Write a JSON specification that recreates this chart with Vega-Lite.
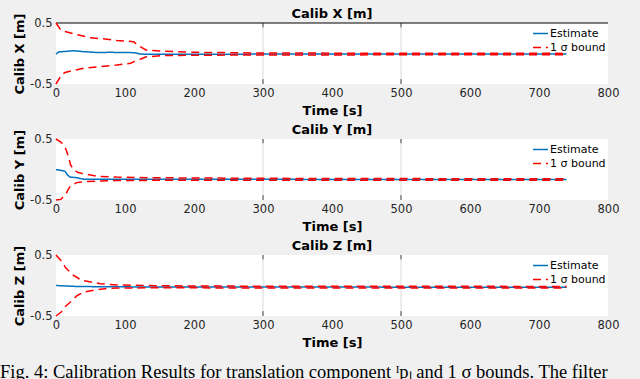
{
  "$schema": "https://vega.github.io/schema/vega-lite/v6.json",
  "background": "#f0f0f0",
  "padding": {"left": 0, "top": 7, "right": 0, "bottom": 0},
  "config": {
    "font": "DejaVu Sans",
    "view": {"stroke": null, "fill": "white"},
    "axis": {"domain": false, "ticks": false, "grid": false, "labelFont": "DejaVu Sans", "labelFontSize": 11.5, "labelColor": "#262626", "titleFont": "DejaVu Sans", "titleFontSize": 13, "titleFontWeight": "bold", "titleColor": "black"},
    "axisX": {"labelPadding": 3, "titlePadding": 6, "labelFlush": false},
    "axisY": {"labelPadding": 4, "titlePadding": 3},
    "title": {"font": "DejaVu Sans", "fontSize": 13, "fontWeight": "bold", "color": "black", "offset": -8, "anchor": "middle"},
    "legend": {"orient": "top-right", "offset": 2, "padding": 0, "labelFont": "DejaVu Sans", "labelFontSize": 11, "labelColor": "black", "symbolType": "stroke", "symbolSize": 225, "symbolStrokeWidth": 1.5, "rowPadding": -3, "labelOffset": 1, "title": null}
  },
  "datasets": {
    "dx": [
      {"t":0,"v":-0.01,"s":"Estimate","k":"e"},{"t":4,"v":0.027,"s":"Estimate","k":"e"},{"t":15,"v":0.035,"s":"Estimate","k":"e"},{"t":25,"v":0.045,"s":"Estimate","k":"e"},{"t":40,"v":0.03,"s":"Estimate","k":"e"},{"t":60,"v":0.015,"s":"Estimate","k":"e"},{"t":80,"v":0.02,"s":"Estimate","k":"e"},{"t":90,"v":0.015,"s":"Estimate","k":"e"},{"t":100,"v":0.018,"s":"Estimate","k":"e"},{"t":115,"v":0.012,"s":"Estimate","k":"e"},{"t":122,"v":-0.01,"s":"Estimate","k":"e"},{"t":150,"v":-0.012,"s":"Estimate","k":"e"},{"t":300,"v":-0.01,"s":"Estimate","k":"e"},{"t":500,"v":-0.01,"s":"Estimate","k":"e"},{"t":740,"v":-0.01,"s":"Estimate","k":"e"},
      {"t":0,"v":0.5,"s":"1 σ bound","k":"u"},{"t":8,"v":0.37,"s":"1 σ bound","k":"u"},{"t":13,"v":0.36,"s":"1 σ bound","k":"u"},{"t":30,"v":0.31,"s":"1 σ bound","k":"u"},{"t":49,"v":0.26,"s":"1 σ bound","k":"u"},{"t":68,"v":0.24,"s":"1 σ bound","k":"u"},{"t":88,"v":0.215,"s":"1 σ bound","k":"u"},{"t":107,"v":0.2,"s":"1 σ bound","k":"u"},{"t":113,"v":0.19,"s":"1 σ bound","k":"u"},{"t":119,"v":0.13,"s":"1 σ bound","k":"u"},{"t":131,"v":0.054,"s":"1 σ bound","k":"u"},{"t":155,"v":0.038,"s":"1 σ bound","k":"u"},{"t":200,"v":0.02,"s":"1 σ bound","k":"u"},{"t":300,"v":0.008,"s":"1 σ bound","k":"u"},{"t":500,"v":0.004,"s":"1 σ bound","k":"u"},{"t":740,"v":0.002,"s":"1 σ bound","k":"u"},
      {"t":0,"v":-0.5,"s":"1 σ bound","k":"l"},{"t":8,"v":-0.35,"s":"1 σ bound","k":"l"},{"t":13,"v":-0.31,"s":"1 σ bound","k":"l"},{"t":40,"v":-0.24,"s":"1 σ bound","k":"l"},{"t":64,"v":-0.215,"s":"1 σ bound","k":"l"},{"t":88,"v":-0.19,"s":"1 σ bound","k":"l"},{"t":108,"v":-0.16,"s":"1 σ bound","k":"l"},{"t":114,"v":-0.13,"s":"1 σ bound","k":"l"},{"t":131,"v":-0.054,"s":"1 σ bound","k":"l"},{"t":155,"v":-0.035,"s":"1 σ bound","k":"l"},{"t":200,"v":-0.028,"s":"1 σ bound","k":"l"},{"t":300,"v":-0.024,"s":"1 σ bound","k":"l"},{"t":500,"v":-0.022,"s":"1 σ bound","k":"l"},{"t":740,"v":-0.022,"s":"1 σ bound","k":"l"}
    ],
    "dy": [
      {"t":0,"v":0,"s":"Estimate","k":"e"},{"t":13,"v":-0.027,"s":"Estimate","k":"e"},{"t":16,"v":-0.08,"s":"Estimate","k":"e"},{"t":20,"v":-0.124,"s":"Estimate","k":"e"},{"t":30,"v":-0.134,"s":"Estimate","k":"e"},{"t":40,"v":-0.16,"s":"Estimate","k":"e"},{"t":100,"v":-0.16,"s":"Estimate","k":"e"},{"t":200,"v":-0.158,"s":"Estimate","k":"e"},{"t":400,"v":-0.163,"s":"Estimate","k":"e"},{"t":740,"v":-0.165,"s":"Estimate","k":"e"},
      {"t":0,"v":0.5,"s":"1 σ bound","k":"u"},{"t":7,"v":0.45,"s":"1 σ bound","k":"u"},{"t":13,"v":0.376,"s":"1 σ bound","k":"u"},{"t":18,"v":0.215,"s":"1 σ bound","k":"u"},{"t":21,"v":0.08,"s":"1 σ bound","k":"u"},{"t":25,"v":0,"s":"1 σ bound","k":"u"},{"t":32,"v":-0.05,"s":"1 σ bound","k":"u"},{"t":40,"v":-0.07,"s":"1 σ bound","k":"u"},{"t":59,"v":-0.11,"s":"1 σ bound","k":"u"},{"t":88,"v":-0.124,"s":"1 σ bound","k":"u"},{"t":136,"v":-0.134,"s":"1 σ bound","k":"u"},{"t":200,"v":-0.14,"s":"1 σ bound","k":"u"},{"t":400,"v":-0.148,"s":"1 σ bound","k":"u"},{"t":740,"v":-0.152,"s":"1 σ bound","k":"u"},
      {"t":0,"v":-0.5,"s":"1 σ bound","k":"l"},{"t":7,"v":-0.49,"s":"1 σ bound","k":"l"},{"t":14.5,"v":-0.4,"s":"1 σ bound","k":"l"},{"t":18,"v":-0.32,"s":"1 σ bound","k":"l"},{"t":21,"v":-0.27,"s":"1 σ bound","k":"l"},{"t":30,"v":-0.215,"s":"1 σ bound","k":"l"},{"t":40,"v":-0.2,"s":"1 σ bound","k":"l"},{"t":59,"v":-0.19,"s":"1 σ bound","k":"l"},{"t":88,"v":-0.18,"s":"1 σ bound","k":"l"},{"t":200,"v":-0.176,"s":"1 σ bound","k":"l"},{"t":400,"v":-0.177,"s":"1 σ bound","k":"l"},{"t":740,"v":-0.178,"s":"1 σ bound","k":"l"}
    ],
    "dz": [
      {"t":0,"v":0,"s":"Estimate","k":"e"},{"t":30,"v":-0.016,"s":"Estimate","k":"e"},{"t":64,"v":-0.02,"s":"Estimate","k":"e"},{"t":150,"v":-0.025,"s":"Estimate","k":"e"},{"t":740,"v":-0.028,"s":"Estimate","k":"e"},
      {"t":0,"v":0.5,"s":"1 σ bound","k":"u"},{"t":8,"v":0.4,"s":"1 σ bound","k":"u"},{"t":14,"v":0.29,"s":"1 σ bound","k":"u"},{"t":25,"v":0.17,"s":"1 σ bound","k":"u"},{"t":37,"v":0.086,"s":"1 σ bound","k":"u"},{"t":49,"v":0.06,"s":"1 σ bound","k":"u"},{"t":64,"v":0.03,"s":"1 σ bound","k":"u"},{"t":88,"v":0.01,"s":"1 σ bound","k":"u"},{"t":150,"v":-0.005,"s":"1 σ bound","k":"u"},{"t":300,"v":-0.012,"s":"1 σ bound","k":"u"},{"t":740,"v":-0.015,"s":"1 σ bound","k":"u"},
      {"t":0,"v":-0.5,"s":"1 σ bound","k":"l"},{"t":8,"v":-0.43,"s":"1 σ bound","k":"l"},{"t":14,"v":-0.34,"s":"1 σ bound","k":"l"},{"t":23,"v":-0.25,"s":"1 σ bound","k":"l"},{"t":30,"v":-0.17,"s":"1 σ bound","k":"l"},{"t":40,"v":-0.11,"s":"1 σ bound","k":"l"},{"t":59,"v":-0.07,"s":"1 σ bound","k":"l"},{"t":73,"v":-0.05,"s":"1 σ bound","k":"l"},{"t":93,"v":-0.04,"s":"1 σ bound","k":"l"},{"t":150,"v":-0.038,"s":"1 σ bound","k":"l"},{"t":300,"v":-0.04,"s":"1 σ bound","k":"l"},{"t":740,"v":-0.041,"s":"1 σ bound","k":"l"}
    ],
    "grid": [{"t":300},{"t":500}],
    "gticks": [{"t":300,"a":0.5,"b":0.43},{"t":300,"a":-0.5,"b":-0.42},{"t":500,"a":0.5,"b":0.43},{"t":500,"a":-0.5,"b":-0.42}]
  },
  "spacing": 2,
  "vconcat": [
    {
      "spacing": 55,
      "bounds": "flush",
      "resolve": {"scale": {"color": "independent", "strokeDash": "independent"}, "legend": {"color": "independent", "strokeDash": "independent"}},
      "vconcat": [
        {
          "width": 552, "height": 61,
          "title": "Calib X [m]",
          "layer": [
            {"data": {"name": "grid"}, "mark": {"type": "rule", "color": "#d9d9d9", "strokeWidth": 1}, "encoding": {"x": {"field": "t", "type": "quantitative", "scale": {"domain": [0, 800]}, "title": "Time [s]", "axis": {"values": [0,100,200,300,400,500,600,700,800]}}}},
            {"data": {"name": "gticks"}, "mark": {"type": "rule", "color": "#4d4d4d", "strokeWidth": 1}, "encoding": {"x": {"field": "t", "type": "quantitative", "title": "Time [s]"}, "y": {"field": "a", "type": "quantitative", "scale": {"domain": [-0.5, 0.5]}, "title": "Calib X [m]", "axis": {"values": [-0.5, 0, 0.5], "labelExpr": "replace(datum.label, '\u2212', '-')"}}, "y2": {"field": "b"}}},
            {"data": {"values": [{"v": 0.5}]}, "mark": {"type": "rule", "color": "black", "strokeWidth": 1}, "encoding": {"y": {"field": "v", "type": "quantitative", "title": "Calib X [m]"}}},
            {"data": {"name": "dx"}, "mark": {"type": "line", "strokeWidth": 1.5},
             "encoding": {
               "x": {"field": "t", "type": "quantitative", "title": "Time [s]"},
               "y": {"field": "v", "type": "quantitative", "title": "Calib X [m]"},
               "color": {"field": "s", "type": "nominal", "scale": {"domain": ["Estimate", "1 σ bound"], "range": ["#0072BD", "#FF0000"]}},
               "strokeDash": {"field": "s", "type": "nominal", "scale": {"domain": ["Estimate", "1 σ bound"], "range": [[1, 0], [8, 5]]}},
               "detail": {"field": "k"}
             }}
          ]
        },
        {
          "width": 552, "height": 61,
          "title": "Calib Y [m]",
          "layer": [
            {"data": {"name": "grid"}, "mark": {"type": "rule", "color": "#d9d9d9", "strokeWidth": 1}, "encoding": {"x": {"field": "t", "type": "quantitative", "scale": {"domain": [0, 800]}, "title": "Time [s]", "axis": {"values": [0,100,200,300,400,500,600,700,800]}}}},
            {"data": {"name": "gticks"}, "mark": {"type": "rule", "color": "#4d4d4d", "strokeWidth": 1}, "encoding": {"x": {"field": "t", "type": "quantitative", "title": "Time [s]"}, "y": {"field": "a", "type": "quantitative", "scale": {"domain": [-0.5, 0.5]}, "title": "Calib Y [m]", "axis": {"values": [-0.5, 0, 0.5], "labelExpr": "replace(datum.label, '\u2212', '-')"}}, "y2": {"field": "b"}}},
            {"data": {"name": "dy"}, "mark": {"type": "line", "strokeWidth": 1.5},
             "encoding": {
               "x": {"field": "t", "type": "quantitative", "title": "Time [s]"},
               "y": {"field": "v", "type": "quantitative", "title": "Calib Y [m]"},
               "color": {"field": "s", "type": "nominal", "scale": {"domain": ["Estimate", "1 σ bound"], "range": ["#0072BD", "#FF0000"]}},
               "strokeDash": {"field": "s", "type": "nominal", "scale": {"domain": ["Estimate", "1 σ bound"], "range": [[1, 0], [8, 5]]}},
               "detail": {"field": "k"}
             }}
          ]
        },
        {
          "width": 552, "height": 61,
          "title": "Calib Z [m]",
          "layer": [
            {"data": {"name": "grid"}, "mark": {"type": "rule", "color": "#d9d9d9", "strokeWidth": 1}, "encoding": {"x": {"field": "t", "type": "quantitative", "scale": {"domain": [0, 800]}, "title": "Time [s]", "axis": {"values": [0,100,200,300,400,500,600,700,800]}}}},
            {"data": {"name": "gticks"}, "mark": {"type": "rule", "color": "#4d4d4d", "strokeWidth": 1}, "encoding": {"x": {"field": "t", "type": "quantitative", "title": "Time [s]"}, "y": {"field": "a", "type": "quantitative", "scale": {"domain": [-0.5, 0.5]}, "title": "Calib Z [m]", "axis": {"values": [-0.5, 0, 0.5], "labelExpr": "replace(datum.label, '\u2212', '-')"}}, "y2": {"field": "b"}}},
            {"data": {"name": "dz"}, "mark": {"type": "line", "strokeWidth": 1.5},
             "encoding": {
               "x": {"field": "t", "type": "quantitative", "title": "Time [s]"},
               "y": {"field": "v", "type": "quantitative", "title": "Calib Z [m]"},
               "color": {"field": "s", "type": "nominal", "scale": {"domain": ["Estimate", "1 σ bound"], "range": ["#0072BD", "#FF0000"]}},
               "strokeDash": {"field": "s", "type": "nominal", "scale": {"domain": ["Estimate", "1 σ bound"], "range": [[1, 0], [8, 5]]}},
               "detail": {"field": "k"}
             }}
          ]
        }
      ]
    },
    {
      "width": 584, "height": 28,
      "data": {"values": []},
      "mark": {"type": "rule"},
      "encoding": {},
      "title": {"text": "Fig. 4: Calibration Results for translation component ᴵpₗ and 1 σ bounds. The filter", "orient": "top", "anchor": "start", "frame": "group", "baseline": "alphabetic", "offset": -44, "dx": -56, "font": "Liberation Serif", "fontSize": 18.5, "fontWeight": "normal", "color": "black"}
    }
  ]
}
